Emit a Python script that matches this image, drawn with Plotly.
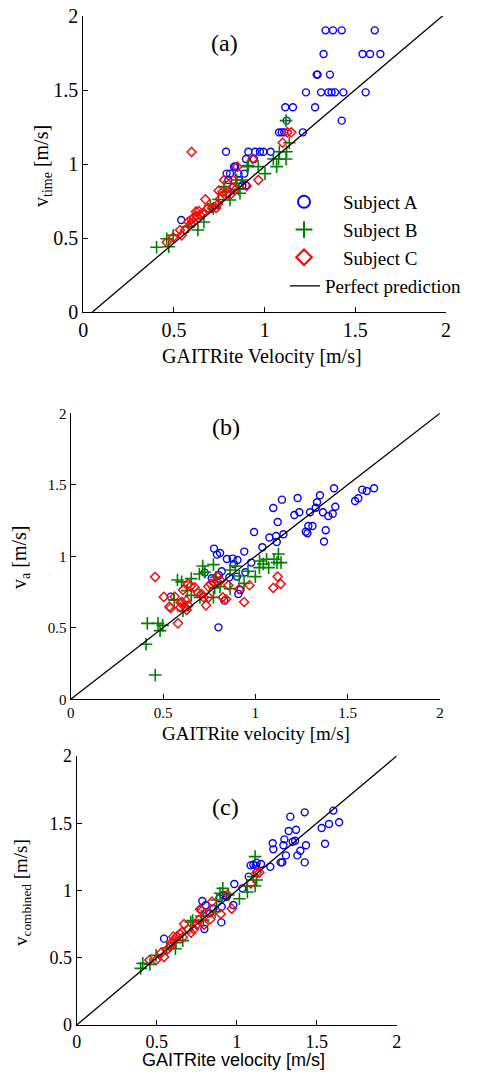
import plotly.graph_objects as go

# ---------------- Panel (a): v_time vs GAITRite velocity ----------------
a_A_x = [1.336, 1.377, 1.425, 1.607, 1.325, 1.540, 1.581, 1.638, 1.287, 1.292, 1.360,
         1.228, 1.311, 1.351, 1.369, 1.388, 1.434, 1.557, 1.114, 1.156, 1.278, 1.121,
         1.425, 1.079, 1.094, 1.108, 1.211, 0.787, 0.910, 0.947, 0.974, 0.993, 1.033,
         0.897, 0.941, 0.831, 0.838, 0.790, 0.809, 0.855, 0.888, 0.800, 0.860, 0.877,
         0.897, 0.540, 0.827]
a_A_y = [1.903, 1.903, 1.903, 1.903, 1.743, 1.743, 1.743, 1.743, 1.604, 1.604, 1.604,
         1.484, 1.484, 1.484, 1.484, 1.484, 1.484, 1.484, 1.383, 1.383, 1.383, 1.293,
         1.293, 1.214, 1.214, 1.214, 1.214, 1.083, 1.083, 1.083, 1.083, 1.083, 1.083,
         1.034, 1.034, 0.982, 0.982, 0.935, 0.935, 0.935, 0.935, 0.892, 0.892, 0.856,
         0.856, 0.622, 0.847]
a_B_x = [1.118, 1.136, 1.121, 1.081, 1.048, 1.077, 1.118, 0.904, 0.965, 1.066, 1.002,
         0.873, 0.910, 0.855, 0.864, 0.809, 0.776, 0.787, 0.717, 0.665, 0.632, 0.496,
         0.460, 0.404, 0.471, 0.579, 0.846, 0.700, 0.745]
a_B_y = [1.293, 1.144, 1.083, 1.083, 1.034, 1.034, 1.034, 0.982, 0.982, 0.982, 0.935,
         0.892, 0.989, 0.829, 0.802, 0.757, 0.847, 0.811, 0.700, 0.608, 0.554, 0.518,
         0.495, 0.437, 0.441, 0.577, 0.892, 0.720, 0.760]
a_C_x = [0.597, 1.099, 1.125, 1.147, 0.934, 0.849, 0.776, 0.827, 0.965, 0.901, 0.746,
         0.768, 0.836, 0.809, 0.673, 0.754, 0.743, 0.688, 0.710, 0.732, 0.621, 0.636,
         0.643, 0.625, 0.612, 0.597, 0.579, 0.592, 0.607, 0.533, 0.562, 0.542, 0.496,
         0.460, 0.658, 0.790, 0.824]
a_C_y = [1.081, 1.144, 1.214, 1.214, 1.034, 0.982, 0.892, 0.892, 0.892, 0.851, 0.820,
         0.813, 0.824, 0.791, 0.761, 0.764, 0.730, 0.703, 0.703, 0.703, 0.678, 0.682,
         0.655, 0.649, 0.640, 0.626, 0.610, 0.595, 0.604, 0.554, 0.554, 0.518, 0.505,
         0.471, 0.667, 0.802, 0.840]
a_line_x = [0.05, 1.99]
a_line_y = [0.0, 2.01]

# ---------------- Panel (b): v_a vs GAITRite velocity ----------------
b_A_x = [1.426, 1.579, 1.603, 1.643, 1.540, 1.558, 1.229, 1.144, 1.350, 1.334, 1.327,
         1.433, 1.097, 1.296, 1.238, 1.211, 1.366, 1.419, 1.395, 1.121, 1.309, 1.287,
         1.273, 1.282, 1.381, 1.372, 1.152, 1.112, 1.076, 1.116, 0.993, 1.038, 0.940,
         0.978, 0.946, 0.776, 0.792, 0.809, 0.846, 0.877, 0.903, 0.884, 0.818, 0.901,
         0.859, 0.803, 0.764, 0.726, 0.919, 0.908, 0.832, 0.542, 0.800]
b_A_y = [1.476, 1.466, 1.457, 1.476, 1.387, 1.406, 1.408, 1.396, 1.427, 1.378, 1.340,
         1.347, 1.338, 1.308, 1.308, 1.289, 1.308, 1.298, 1.282, 1.240, 1.212, 1.212,
         1.172, 1.161, 1.182, 1.103, 1.154, 1.142, 1.131, 1.100, 1.170, 1.063, 1.033,
         0.956, 0.888, 1.054, 1.012, 1.023, 0.981, 0.984, 0.974, 0.946, 0.895, 0.858,
         0.853, 0.867, 0.846, 0.886, 0.765, 0.737, 0.690, 0.718, 0.503]
b_B_x = [1.125, 1.101, 1.061, 1.023, 1.043, 1.117, 1.139, 1.022, 1.072, 1.000, 0.960,
         0.939, 0.913, 0.863, 0.892, 0.863, 0.780, 0.773, 0.773, 0.715, 0.726, 0.697,
         0.653, 0.578, 0.601, 0.632, 0.653, 0.700, 0.608, 0.561, 0.415, 0.473, 0.498,
         0.484, 0.408, 0.458, 0.809, 0.787]
b_B_y = [1.016, 0.979, 0.979, 0.967, 0.946, 0.956, 0.956, 0.921, 0.921, 0.858, 0.895,
         0.811, 0.862, 0.904, 0.932, 0.774, 0.779, 0.713, 0.942, 0.932, 0.888, 0.876,
         0.844, 0.834, 0.821, 0.760, 0.727, 0.713, 0.620, 0.695, 0.531, 0.531, 0.517,
         0.480, 0.385, 0.170, 0.788, 0.853]
b_C_x = [0.457, 0.504, 0.534, 0.541, 0.563, 0.581, 0.594, 0.603, 0.608, 0.596, 0.625,
         0.617, 0.628, 0.635, 0.637, 0.650, 0.671, 0.689, 0.708, 0.720, 0.733, 0.747,
         0.745, 0.758, 0.778, 0.792, 0.791, 0.812, 0.823, 0.841, 0.854, 0.912, 0.968,
         0.939, 1.097, 1.121, 1.137]
b_C_y = [0.855, 0.716, 0.648, 0.639, 0.718, 0.531, 0.643, 0.681, 0.765, 0.676, 0.690,
         0.648, 0.625, 0.807, 0.657, 0.793, 0.783, 0.746, 0.737, 0.713, 0.657, 0.713,
         0.788, 0.807, 0.816, 0.862, 0.825, 0.830, 0.713, 0.699, 0.797, 0.769, 0.797,
         0.681, 0.779, 0.858, 0.807]
b_line_x = [0.0, 2.0]
b_line_y = [0.0, 2.0]

# ---------------- Panel (c): v_combined vs GAITRite velocity ----------------
c_A_x = [1.604, 1.425, 1.335, 1.640, 1.577, 1.531, 1.552, 1.325, 1.371, 1.298, 1.225,
         1.229, 1.292, 1.350, 1.365, 1.433, 1.398, 1.379, 1.308, 1.275, 1.285, 1.425,
         1.210, 1.152, 1.125, 1.104, 1.087, 1.119, 1.075, 0.985, 1.035, 0.892, 0.917,
         0.938, 0.785, 0.806, 0.775, 0.833, 0.854, 0.906, 0.904, 0.798, 0.546, 0.979]
c_A_y = [1.594, 1.581, 1.549, 1.507, 1.494, 1.465, 1.348, 1.442, 1.452, 1.380, 1.351,
         1.306, 1.336, 1.363, 1.370, 1.336, 1.296, 1.261, 1.261, 1.209, 1.209, 1.209,
         1.177, 1.197, 1.207, 1.192, 1.187, 1.185, 1.103, 1.048, 1.016, 0.942, 0.967,
         0.954, 0.922, 0.890, 0.858, 0.830, 0.867, 0.880, 0.763, 0.714, 0.642, 0.892]
c_B_x = [1.115, 0.896, 0.913, 0.875, 0.948, 1.063, 1.017, 1.067, 1.115, 1.104, 1.125,
         0.779, 0.713, 0.663, 0.621, 0.617, 0.496, 0.458, 0.413, 0.400, 0.865, 0.792,
         0.563, 0.725]
c_B_y = [1.252, 0.979, 1.016, 0.929, 0.967, 1.033, 0.939, 0.989, 1.033, 1.103, 1.078,
         0.810, 0.766, 0.627, 0.612, 0.567, 0.518, 0.451, 0.458, 0.421, 0.843, 0.781,
         0.573, 0.776]
c_C_x = [0.454, 0.496, 0.546, 0.529, 0.563, 0.583, 0.594, 0.608, 0.625, 0.646, 0.656,
         0.663, 0.604, 0.671, 0.715, 0.733, 0.750, 0.763, 0.771, 0.783, 0.796, 0.827,
         0.835, 0.846, 0.900, 0.942, 0.969, 1.088, 1.125, 1.142, 0.698]
c_C_y = [0.483, 0.483, 0.506, 0.538, 0.558, 0.582, 0.612, 0.632, 0.657, 0.677, 0.691,
         0.652, 0.657, 0.751, 0.686, 0.711, 0.746, 0.781, 0.860, 0.850, 0.746, 0.835,
         0.786, 0.917, 0.825, 0.969, 0.865, 1.053, 1.133, 1.133, 0.711]
c_line_x = [0.0, 2.0]
c_line_y = [0.0, 2.0]

series_names = ["Subject A", "Subject B", "Subject C", "Perfect prediction"]
tick_vals = [0, 0.5, 1, 1.5, 2]
tick_text = ["0", "0.5", "1", "1.5", "2"]
panel_labels = ["(a)", "(b)", "(c)"]
label_pos = [(0.78, 1.82), (0.84, 1.905), (0.93, 1.62)]
x_titles = ["GAITRite Velocity [m/s]", "GAITRite velocity [m/s]", "GAITRite velocity [m/s]"]
y_titles = ["v<sub>time</sub> [m/s]", "v<sub>a</sub> [m/s]", "v<sub>combined</sub> [m/s]"]

SERIF = "Liberation Serif, Times New Roman, serif"
SANS = "Liberation Sans, Arial, sans-serif"
BLUE, GREEN, RED = "#0000FF", "#008000", "#FF0000"

# The page body keeps its default 8px margin, so the figure is sized to fit
# the 479x1079 window exactly; layout below is given in window pixels.
OFF = 8
W, H = 479 - 2 * OFF, 1079 - 2 * OFF


def px_x(px):
    return (px - OFF) / W


def px_y(py):
    return 1 - (py - OFF) / H


def xdom(px0, px1):
    return [px_x(px0), px_x(px1)]


def ydom(py_top, py_bot):
    return [px_y(py_bot), px_y(py_top)]


fig = go.Figure()

panels = [
    (a_A_x, a_A_y, a_B_x, a_B_y, a_C_x, a_C_y, a_line_x, a_line_y),
    (b_A_x, b_A_y, b_B_x, b_B_y, b_C_x, b_C_y, b_line_x, b_line_y),
    (c_A_x, c_A_y, c_B_x, c_B_y, c_C_x, c_C_y, c_line_x, c_line_y),
]
axis_ids = [("x", "y"), ("x2", "y2"), ("x3", "y3")]
legend_names = ["\u00a0\u00a0\u00a0\u00a0" + n for n in series_names[:3]] + [series_names[3]]

for i, (ax_, ay_, bx_, by_, cx_, cy_, lx_, ly_) in enumerate(panels):
    xa, ya = axis_ids[i]
    show = (i == 0)
    fig.add_trace(go.Scatter(x=ax_, y=ay_, mode="markers", name=legend_names[0],
                             xaxis=xa, yaxis=ya, showlegend=show, legend="legend",
                             marker=dict(symbol="circle-open", size=7, color=BLUE,
                                         line=dict(width=1.4, color=BLUE))))
    fig.add_trace(go.Scatter(x=bx_, y=by_, mode="markers", name=legend_names[1],
                             xaxis=xa, yaxis=ya, showlegend=show, legend="legend",
                             marker=dict(symbol="cross-thin-open", size=9, color=GREEN,
                                         line=dict(width=1.6, color=GREEN))))
    fig.add_trace(go.Scatter(x=cx_, y=cy_, mode="markers", name=legend_names[2],
                             xaxis=xa, yaxis=ya, showlegend=show, legend="legend",
                             marker=dict(symbol="diamond-open", size=7, color=RED,
                                         line=dict(width=1.4, color=RED))))
    fig.add_trace(go.Scatter(x=lx_, y=ly_, mode="lines", name=legend_names[3],
                             xaxis=xa, yaxis=ya, showlegend=show, legend="legend2",
                             line=dict(color="black", width=1.3)))


def axis_common(font_size):
    return dict(range=[0, 2], tickvals=tick_vals, ticktext=tick_text,
                showgrid=False, zeroline=False, showline=True, linecolor="black",
                linewidth=1.3, ticks="inside", ticklen=5, tickwidth=1, tickcolor="black",
                tickfont=dict(family=SERIF, size=font_size, color="black"),
                ticklabeloverflow="allow",
                mirror=False, fixedrange=True, automargin=False)


legend_font = dict(family=SERIF, size=19, color="black")

fig.update_layout(
    width=W, height=H,
    margin=dict(l=0, r=0, t=0, b=0, autoexpand=False),
    paper_bgcolor="white", plot_bgcolor="white",
    showlegend=True,
    legend=dict(x=px_x(284), y=px_y(183), xanchor="left", yanchor="top",
                bgcolor="rgba(0,0,0,0)", borderwidth=0, itemsizing="constant",
                font=legend_font, tracegroupgap=0),
    legend2=dict(x=px_x(285), y=px_y(267), xanchor="left", yanchor="top",
                 bgcolor="rgba(0,0,0,0)", borderwidth=0, itemsizing="trace",
                 font=legend_font, tracegroupgap=0),
    xaxis=dict(domain=xdom(83.3, 446), anchor="y", **axis_common(20)),
    yaxis=dict(domain=ydom(16, 312), anchor="x", **axis_common(20)),
    xaxis2=dict(domain=xdom(70.7, 440), anchor="y2", **axis_common(15)),
    yaxis2=dict(domain=ydom(413.3, 699.3), anchor="x2", **axis_common(15)),
    xaxis3=dict(domain=xdom(76.7, 396.7), anchor="y3", **axis_common(18)),
    yaxis3=dict(domain=ydom(756, 1025), anchor="x3", **axis_common(18)),
)

# Panel labels inside each plot
for i, (lab, (lx, ly)) in enumerate(zip(panel_labels, label_pos)):
    xa, ya = axis_ids[i]
    fig.add_annotation(x=lx, y=ly, xref=xa, yref=ya, text=lab, showarrow=False,
                       font=dict(family=SERIF, size=24, color="black"))

# Axis titles (placed in window pixels)
x_title_pos = [(262, 356), (256, 733), (233, 1060)]
x_title_fonts = [dict(family=SERIF, size=20, color="black"),
                 dict(family=SERIF, size=19, color="black"),
                 dict(family=SANS, size=18, color="black")]
y_title_pos = [(42, 166), (20, 558), (22, 893)]
y_title_sizes = [20, 20, 19]

for i in range(3):
    fx, fy = x_title_pos[i]
    fig.add_annotation(x=px_x(fx), y=px_y(fy), xref="paper", yref="paper",
                       text=x_titles[i], showarrow=False, xanchor="center",
                       yanchor="middle", font=x_title_fonts[i])
    gx, gy = y_title_pos[i]
    fig.add_annotation(x=px_x(gx), y=px_y(gy), xref="paper", yref="paper",
                       text=y_titles[i], showarrow=False, textangle=-90,
                       xanchor="center", yanchor="middle",
                       font=dict(family=SERIF, size=y_title_sizes[i], color="black"))

fig.write_html("out.html")
